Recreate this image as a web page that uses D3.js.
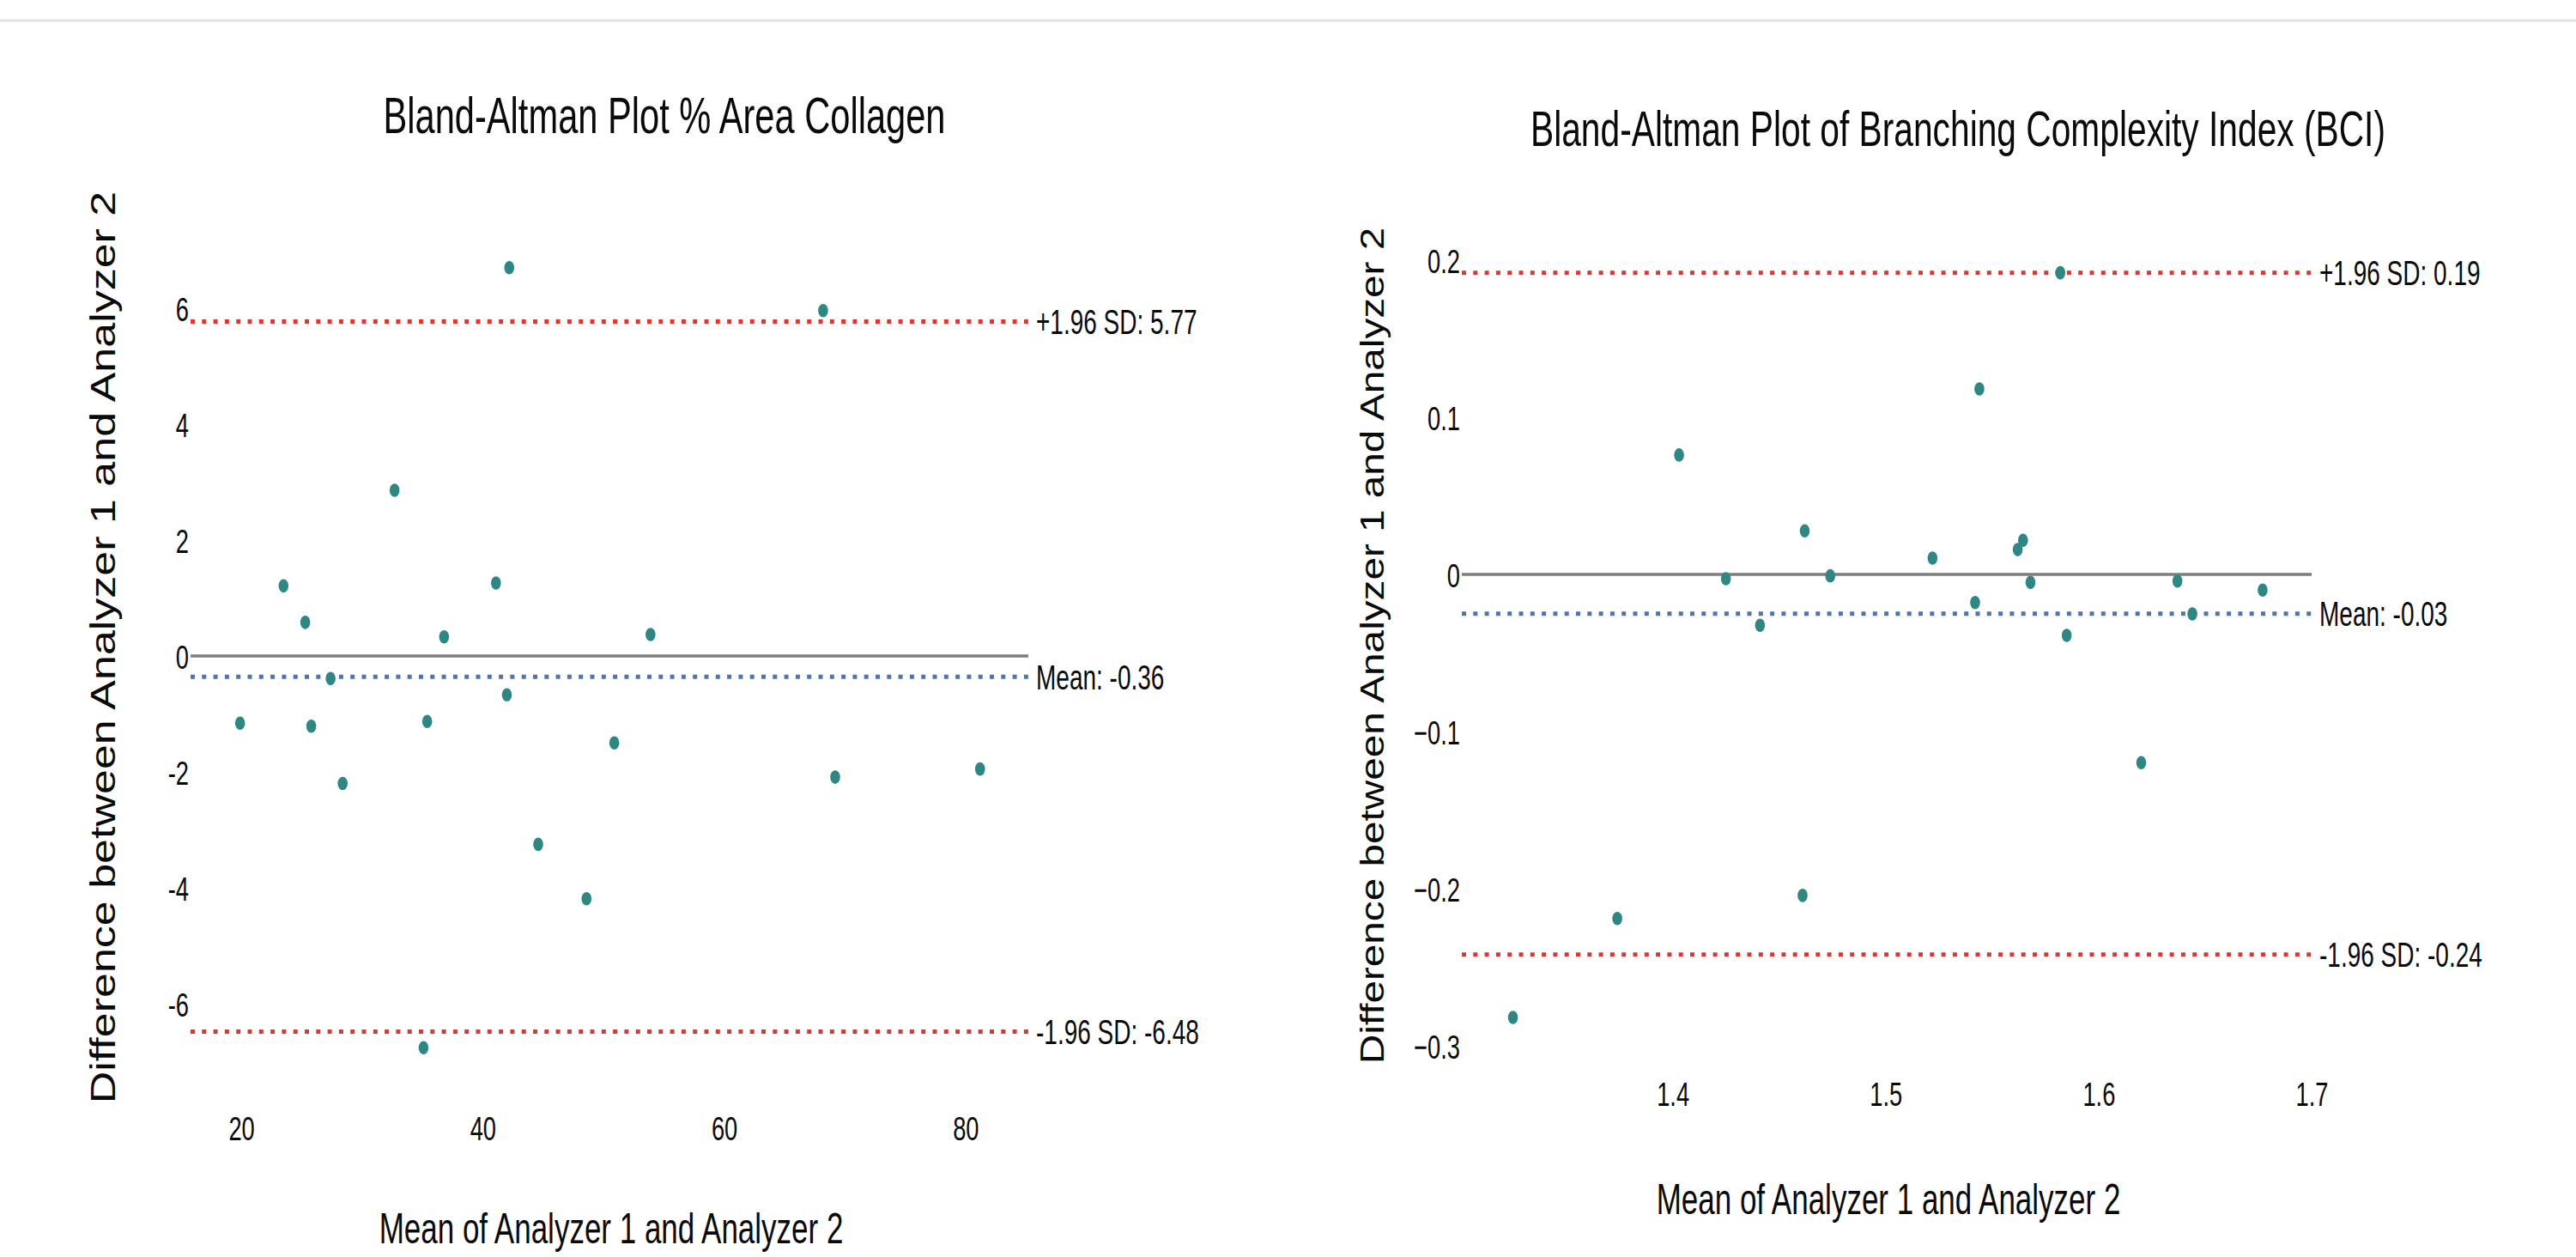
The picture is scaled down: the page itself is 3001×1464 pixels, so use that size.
<!DOCTYPE html>
<html>
<head>
<meta charset="utf-8">
<script src="https://cdn.jsdelivr.net/npm/d3@7"></script>
<style>
  html, body { margin: 0; padding: 0; background: #ffffff; }
  svg { display: block; font-family: "Liberation Sans", Arial, Helvetica, sans-serif; }
</style>
</head>
<body>
<script>
// ---------------- DATA ----------------
const collagenTitle = "Bland-Altman Plot % Area Collagen";
const bciTitle = "Bland-Altman Plot of Branching Complexity Index (BCI)";
const xAxisTitle = "Mean of Analyzer 1 and Analyzer 2";
const yAxisTitle = "Difference between Analyzer 1 and Analyzer 2";

const collagenMean = [42.2, 68.2, 32.7, 23.5, 41.1, 25.3, 36.8, 53.9, 27.4, 42.0,
                      19.9, 25.8, 35.4, 50.9, 28.4, 69.2, 81.2, 44.6, 48.6, 35.1];
const collagenDiff = [6.70, 5.96, 2.86, 1.21, 1.26, 0.58, 0.33, 0.37, -0.39, -0.67,
                      -1.16, -1.21, -1.13, -1.50, -2.20, -2.09, -1.95, -3.25, -4.19, -6.76];
const collagenLimits = [5.77, -0.36, -6.48];
const collagenLimitLabels = ["+1.96 SD: 5.77", "Mean: -0.36", "-1.96 SD: -6.48"];
const collagenXTicks = [20, 40, 60, 80];
const collagenXTickLabels = ["20", "40", "60", "80"];
const collagenYTicks = [6, 4, 2, 0, -2, -4, -6];
const collagenYTickLabels = ["6", "4", "2", "0", "-2", "-4", "-6"];
const collagenXRange = [15.8, 85.2];
const collagenYRange = [-8, 8];

const bciMean = [1.582, 1.544, 1.403, 1.462, 1.5645, 1.562, 1.522, 1.425, 1.474, 1.568,
                 1.637, 1.677, 1.542, 1.644, 1.441, 1.585, 1.620, 1.461, 1.374, 1.325];
const bciDiff = [0.192, 0.118, 0.076, 0.0277, 0.0217, 0.0158, 0.0104, -0.0027, -0.0009, -0.0051,
                 -0.0042, -0.0100, -0.0179, -0.0251, -0.0324, -0.0388, -0.1198, -0.2043, -0.2190, -0.2820];
const bciLimits = [0.192, -0.025, -0.242];
const bciLimitLabels = ["+1.96 SD: 0.19", "Mean: -0.03", "-1.96 SD: -0.24"];
const bciXTicks = [1.4, 1.5, 1.6, 1.7];
const bciXTickLabels = ["1.4", "1.5", "1.6", "1.7"];
const bciYTicks = [0.2, 0.1, 0, -0.1, -0.2, -0.3];
const bciYTickLabels = ["0.2", "0.1", "0", "\u22120.1", "\u22120.2", "\u22120.3"];
const bciXRange = [1.301, 1.7];
const bciYRange = [-0.3, 0.2];

// ---------------- DRAWING ----------------
const W = 3001, H = 1464;
const KX = 0.7;          // horizontal condensing of horizontal text
const POINT_COLOR = "#2f8784";
const RED = "#e0362f";
const BLUE = "#5274ad";
const ZERO = "#7d7d7d";
const INK = "#0a0a0a";

const svg = d3.select("body").append("svg")
  .attr("width", W).attr("height", H)
  .attr("viewBox", `0 0 ${W} ${H}`);

svg.append("rect").attr("width", W).attr("height", H).attr("fill", "#ffffff");
svg.append("line").attr("x1", 0).attr("x2", W).attr("y1", 24).attr("y2", 24)
  .attr("stroke", "#dde0ea").attr("stroke-width", 3);

function condText(g, str, x, y, size, anchor, kx) {
  return g.append("text")
    .attr("transform", `translate(${x},${y}) scale(${kx},1)`)
    .attr("text-anchor", anchor)
    .attr("fill", INK)
    .style("font-size", size + "px")
    .text(str);
}

function drawPanel(p) {
  const g = svg.append("g");
  const x = d3.scaleLinear().domain(p.xRange).range(p.xPix);
  const y = d3.scaleLinear().domain(p.yRange).range(p.yPix);

  // y axis tick labels
  const yAxis = d3.axisLeft(y).tickValues(p.yTicks)
    .tickFormat((d, i) => p.yTickLabels[i]).tickSize(0).tickPadding(0);
  const ya = g.append("g").attr("transform", `translate(${p.xPix[0] - 2},0)`).call(yAxis);
  ya.select(".domain").remove();
  ya.selectAll("text")
    .attr("x", 0).attr("dy", "0.36em")
    .attr("transform", `scale(${KX},1)`)
    .attr("fill", INK)
    .style("font-size", p.tickSize + "px")
    .style("font-family", "'Liberation Sans', Arial, sans-serif");

  // x axis tick labels
  const xAxis = d3.axisBottom(x).tickValues(p.xTicks)
    .tickFormat((d, i) => p.xTickLabels[i]).tickSize(0).tickPadding(0);
  const xa = g.append("g").attr("transform", `translate(0,${p.xTickBaseline})`).call(xAxis);
  xa.select(".domain").remove();
  xa.selectAll("text")
    .attr("y", 0).attr("dy", 0)
    .attr("transform", `scale(${KX},1)`)
    .attr("fill", INK)
    .style("font-size", p.tickSize + "px")
    .style("font-family", "'Liberation Sans', Arial, sans-serif");

  // zero line
  g.append("line")
    .attr("x1", x(p.xRange[0])).attr("x2", x(p.xRange[1]))
    .attr("y1", y(0)).attr("y2", y(0))
    .attr("stroke", ZERO).attr("stroke-width", 3.5);

  // limit lines
  const colors = [RED, BLUE, RED];
  p.limits.forEach((v, i) => {
    g.append("line")
      .attr("x1", x(p.xRange[0])).attr("x2", x(p.xRange[1]))
      .attr("y1", y(v)).attr("y2", y(v))
      .attr("stroke", colors[i]).attr("stroke-width", 5)
      .attr("stroke-dasharray", "5,8.3");
  });

  // points
  g.selectAll("ellipse.pt").data(p.xs.map((d, i) => [d, p.ys[i]]))
    .join("ellipse").attr("class", "pt")
    .attr("cx", d => x(d[0])).attr("cy", d => y(d[1]))
    .attr("rx", 5.8).attr("ry", 7.8)
    .attr("fill", POINT_COLOR);

  // limit labels
  p.limits.forEach((v, i) => {
    condText(g, p.limitLabels[i], x(p.xRange[1]) + 9, y(v), p.annSize, "start", KX)
      .attr("dy", "0.36em");
  });

  // titles
  condText(g, p.title, p.titleX, p.titleY, p.titleSize, "middle", KX);
  condText(g, xAxisTitle, p.xTitleX, p.xTitleY, p.xTitleSize, "middle", KX);
  g.append("text")
    .attr("transform", `translate(${p.yTitleX},${p.yTitleY}) rotate(-90) scale(${p.yTitleStretch},1)`)
    .attr("text-anchor", "middle").attr("dy", "0.36em")
    .attr("fill", INK)
    .style("font-size", p.yTitleSize + "px")
    .text(yAxisTitle);
}

drawPanel({
  xs: collagenMean, ys: collagenDiff,
  xRange: collagenXRange, yRange: collagenYRange,
  xPix: [222, 1198], yPix: [1304, 224],
  xTicks: collagenXTicks, xTickLabels: collagenXTickLabels,
  yTicks: collagenYTicks, yTickLabels: collagenYTickLabels,
  limits: collagenLimits, limitLabels: collagenLimitLabels,
  tickSize: 39, annSize: 40, xTickBaseline: 1328,
  title: collagenTitle, titleX: 774, titleY: 155, titleSize: 59.5,
  xTitleX: 712, xTitleY: 1448, xTitleSize: 50,
  yTitleX: 120, yTitleY: 754, yTitleSize: 40, yTitleStretch: 1.3
});

drawPanel({
  xs: bciMean, ys: bciDiff,
  xRange: bciXRange, yRange: bciYRange,
  xPix: [1703, 2693], yPix: [1218, 303],
  xTicks: bciXTicks, xTickLabels: bciXTickLabels,
  yTicks: bciYTicks, yTickLabels: bciYTickLabels,
  limits: bciLimits, limitLabels: bciLimitLabels,
  tickSize: 39, annSize: 40, xTickBaseline: 1288,
  title: bciTitle, titleX: 2281, titleY: 170, titleSize: 58.2,
  xTitleX: 2200, xTitleY: 1414, xTitleSize: 50,
  yTitleX: 1598, yTitleY: 752, yTitleSize: 38, yTitleStretch: 1.255
});
</script>
</body>
</html>
